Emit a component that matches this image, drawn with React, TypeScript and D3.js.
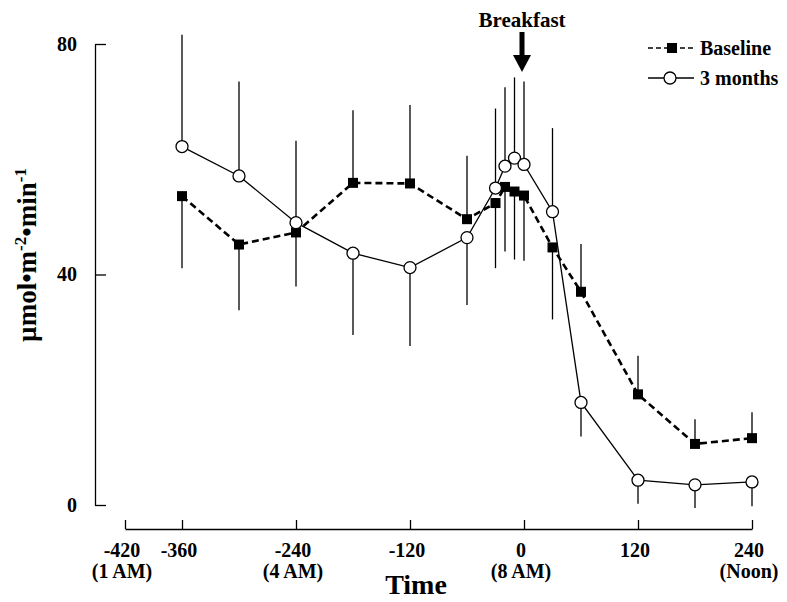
import React, { useEffect, useRef } from "react";
import * as d3 from "d3";

// minutes relative to breakfast
const times = [-360, -300, -240, -180, -120, -60, -30, -20, -10, 0, 30, 60, 120, 180, 240];

const baselineMean = [53.6, 45.2, 47.3, 55.9, 55.8, 49.6, 52.4, 55.2, 54.4, 53.7, 44.7, 37.0, 19.2, 10.6, 11.6];
const baselineSem = [12.5, 11.4, 9.4, 12.6, 13.6, 11.0, 11.3, 11.2, 11.8, 11.3, 12.5, 8.3, 6.7, 4.3, 4.5];
const baselineBarDir = [-1, -1, -1, 1, 1, 1, -1, -1, -1, -1, -1, 1, 1, 1, 1];

const monthsMean = [62.2, 57.1, 49.0, 43.7, 41.2, 46.4, 55.0, 58.8, 60.2, 59.1, 50.9, 17.8, 4.3, 3.5, 4.0];
const monthsSem = [19.4, 16.4, 14.2, 14.2, 13.6, 11.7, 13.8, 13.7, 14.0, 14.4, 14.5, 5.9, 4.1, 4.0, 4.2];
const monthsBarDir = [1, 1, 1, -1, -1, -1, 1, 1, 1, 1, 1, -1, -1, -1, -1];

const xTicks = [-420, -360, -240, -120, 0, 120, 240];
const xTickSub = ["(1 AM)", "", "(4 AM)", "", "(8 AM)", "", "(Noon)"];
const yTicks = [0, 40, 80];
const seriesNames = ["Baseline", "3 months"];

const FONT = "'Liberation Serif', 'Times New Roman', serif";

export default function App() {
  const ref = useRef<SVGSVGElement>(null);

  useEffect(() => {
    const svg = d3.select(ref.current);
    svg.selectAll("*").remove();

    const x = d3.scaleLinear().domain([-420, 240]).range([125, 752]);
    const y = d3.scaleLinear().domain([0, 80]).range([505, 44]);

    // x axis (ticks point up, labels below)
    const xg = svg.append("g")
      .attr("transform", "translate(0, 529)")
      .call(d3.axisBottom(x).tickValues(xTicks).tickSizeInner(-9).tickSizeOuter(0).tickFormat(() => ""));
    xg.select(".domain").attr("stroke-width", 1.3);
    xg.selectAll(".tick line").attr("stroke-width", 1.3);

    const xl = svg.append("g")
      .attr("font-family", FONT)
      .attr("font-weight", "bold")
      .attr("font-size", 20)
      .attr("text-anchor", "middle");
    xl.selectAll("text.top").data(xTicks).enter().append("text")
      .attr("class", "top")
      .attr("x", d => x(d) - 3)
      .attr("y", 557)
      .text(d => String(d));
    xl.selectAll("text.sub").data(xTickSub).enter().append("text")
      .attr("class", "sub")
      .attr("x", (d, i) => x(xTicks[i]) - 3)
      .attr("y", 578)
      .text(d => d);

    svg.append("text")
      .attr("x", 416)
      .attr("y", 594)
      .attr("text-anchor", "middle")
      .attr("font-family", FONT)
      .attr("font-weight", "bold")
      .attr("font-size", 28)
      .text("Time");

    // y axis (ticks point right, labels left)
    const yg = svg.append("g")
      .attr("transform", "translate(95, 0)")
      .call(d3.axisLeft(y).tickValues(yTicks).tickSizeInner(-11).tickSizeOuter(0).tickPadding(18));
    yg.select(".domain").attr("stroke-width", 1.3);
    yg.selectAll(".tick line").attr("stroke-width", 1.3);
    yg.selectAll(".tick text")
      .attr("font-family", FONT)
      .attr("font-weight", "bold")
      .attr("font-size", 20)
      .attr("fill", "#000");

    const ylab = svg.append("text")
      .attr("transform", "translate(36, 255) rotate(-90)")
      .attr("text-anchor", "middle")
      .attr("font-family", FONT)
      .attr("font-weight", "bold")
      .attr("font-size", 27);
    ylab.append("tspan").text("\u00b5mol\u2022m");
    ylab.append("tspan").attr("dy", -10).attr("font-size", 17).text("-2");
    ylab.append("tspan").attr("dy", 10).text("\u2022min");
    ylab.append("tspan").attr("dy", -10).attr("font-size", 17).text("-1");

    // error bars
    const bars = svg.append("g").attr("stroke", "#000").attr("stroke-width", 1.3);
    times.forEach((t, i) => {
      bars.append("line")
        .attr("x1", x(t)).attr("x2", x(t))
        .attr("y1", y(baselineMean[i]))
        .attr("y2", y(baselineMean[i] + baselineBarDir[i] * baselineSem[i]));
      bars.append("line")
        .attr("x1", x(t)).attr("x2", x(t))
        .attr("y1", y(monthsMean[i]))
        .attr("y2", y(monthsMean[i] + monthsBarDir[i] * monthsSem[i]));
    });

    const line = d3.line<number>().x((d, i) => x(times[i])).y(d => y(d));

    // baseline: dashed line + filled squares
    svg.append("path")
      .attr("d", line(baselineMean))
      .attr("fill", "none")
      .attr("stroke", "#000")
      .attr("stroke-width", 2.6)
      .attr("stroke-dasharray", "7,4");
    svg.append("g").selectAll("rect").data(baselineMean).enter().append("rect")
      .attr("x", (d, i) => x(times[i]) - 5)
      .attr("y", d => y(d) - 5)
      .attr("width", 10)
      .attr("height", 10)
      .attr("fill", "#000");

    // 3 months: solid line + open circles
    svg.append("path")
      .attr("d", line(monthsMean))
      .attr("fill", "none")
      .attr("stroke", "#000")
      .attr("stroke-width", 1.3);
    svg.append("g").selectAll("circle").data(monthsMean).enter().append("circle")
      .attr("cx", (d, i) => x(times[i]))
      .attr("cy", d => y(d))
      .attr("r", 6)
      .attr("fill", "#fff")
      .attr("stroke", "#000")
      .attr("stroke-width", 1.3);

    // breakfast arrow
    const ax = x(0) - 2;
    svg.append("text")
      .attr("x", ax)
      .attr("y", 27)
      .attr("text-anchor", "middle")
      .attr("font-family", FONT)
      .attr("font-weight", "bold")
      .attr("font-size", 21)
      .text("Breakfast");
    svg.append("rect")
      .attr("x", ax - 2.5).attr("y", 32).attr("width", 5).attr("height", 25)
      .attr("fill", "#000");
    svg.append("path")
      .attr("d", `M${ax - 9},55 L${ax + 9},55 L${ax},72 Z`)
      .attr("fill", "#000");

    // legend
    const lg = svg.append("g")
      .attr("font-family", FONT)
      .attr("font-weight", "bold")
      .attr("font-size", 20);
    const rows = [48, 78];
    lg.append("line")
      .attr("x1", 648).attr("x2", 694).attr("y1", rows[0]).attr("y2", rows[0])
      .attr("stroke", "#000").attr("stroke-width", 1.5).attr("stroke-dasharray", "5,3");
    lg.append("rect")
      .attr("x", 667).attr("y", rows[0] - 5).attr("width", 10).attr("height", 10).attr("fill", "#000");
    lg.append("line")
      .attr("x1", 648).attr("x2", 694).attr("y1", rows[1]).attr("y2", rows[1])
      .attr("stroke", "#000").attr("stroke-width", 1.3);
    lg.append("circle")
      .attr("cx", 670).attr("cy", rows[1]).attr("r", 6)
      .attr("fill", "#fff").attr("stroke", "#000").attr("stroke-width", 1.3);
    lg.selectAll("text").data(seriesNames).enter().append("text")
      .attr("x", 700)
      .attr("y", (d, i) => rows[i] + 7)
      .text(d => d);
  }, []);

  return (
    <svg
      ref={ref}
      width={787}
      height={602}
      style={{ position: "absolute", left: 0, top: 0, background: "#fff" }}
    />
  );
}
